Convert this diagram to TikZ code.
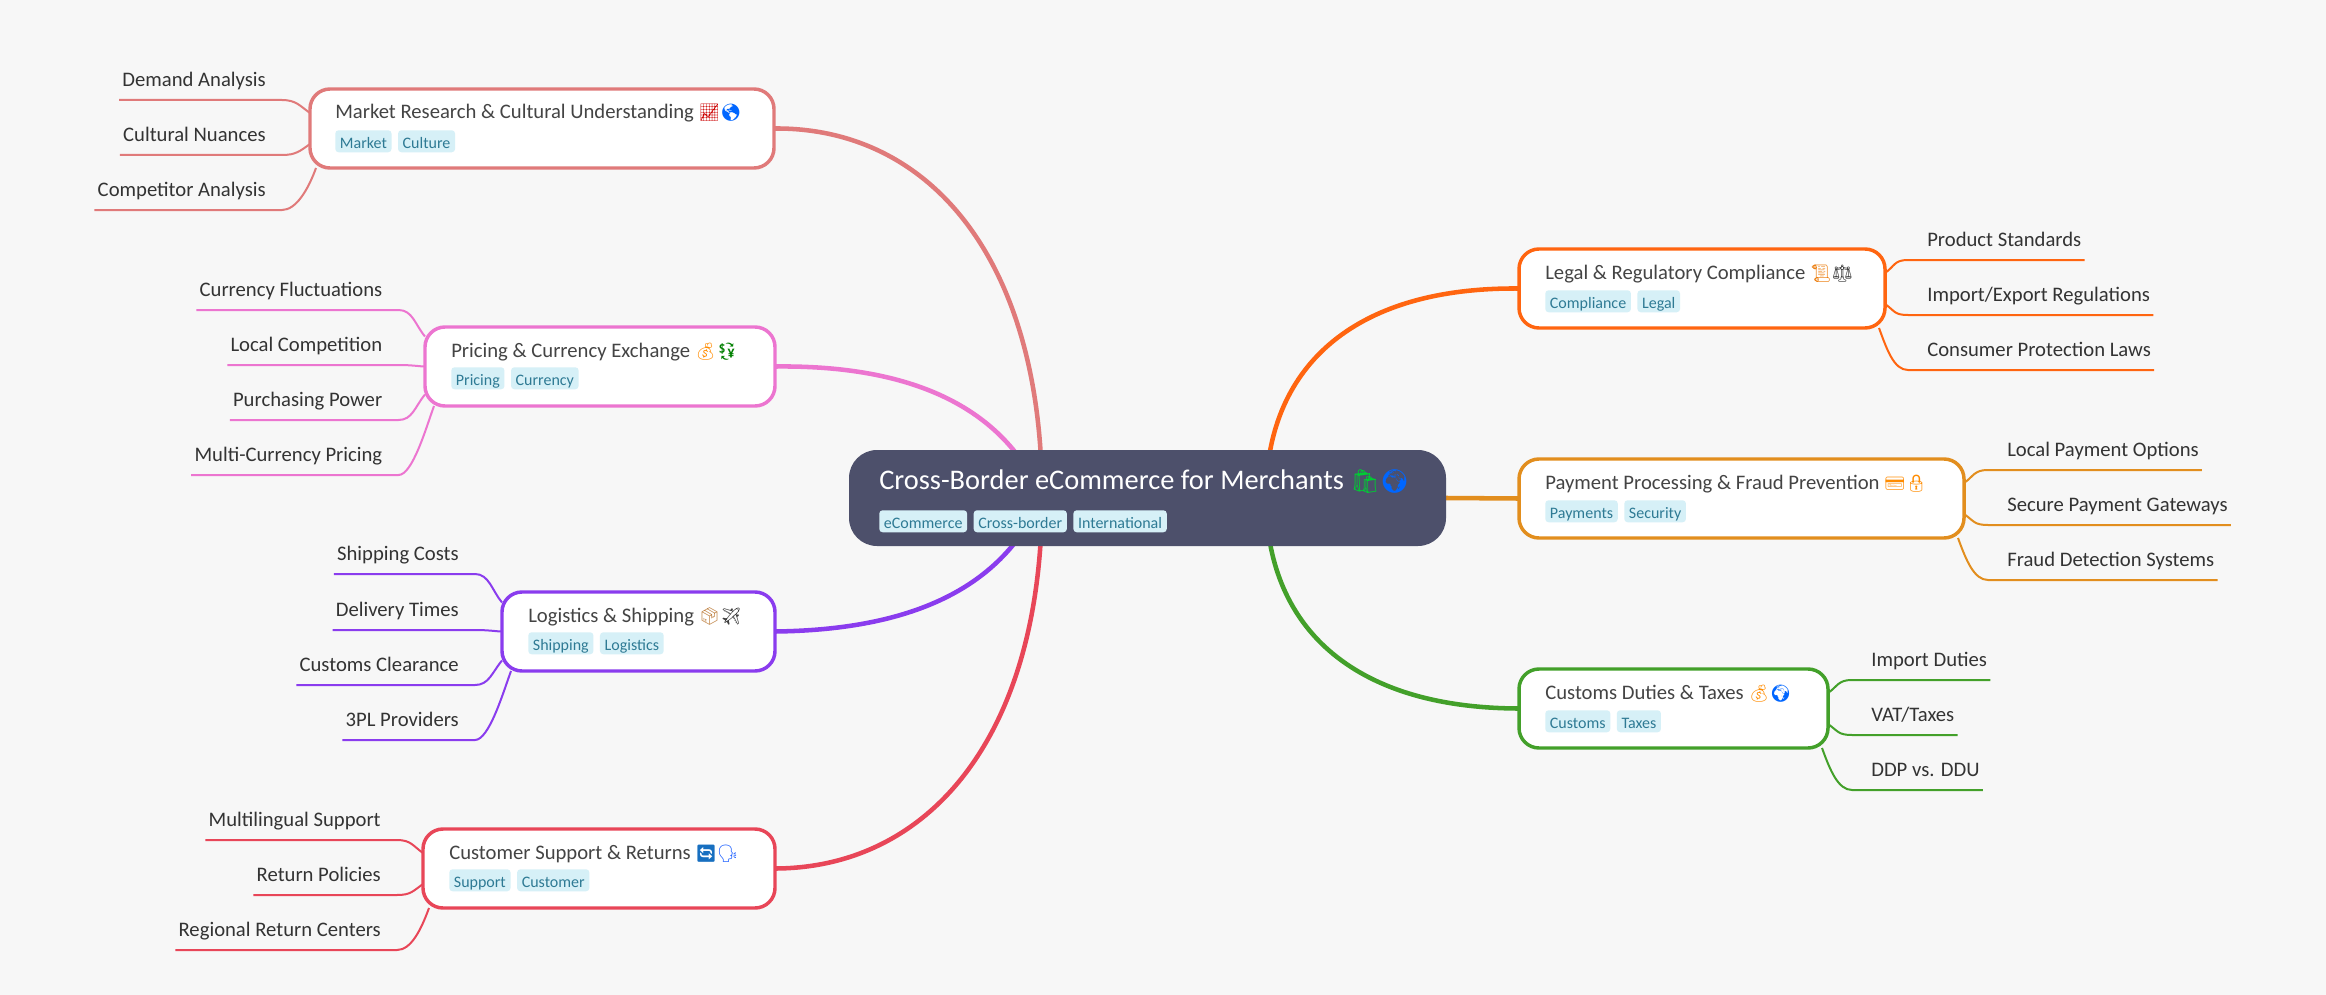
\documentclass[tikz,border=0pt]{standalone}
\usepackage{fontspec}
\setmainfont{Carlito}
\newfontfamily\emojifont[Scale=0.82]{Noto Emoji}
\usetikzlibrary{positioning,calc,backgrounds}

\definecolor{pagebg}{HTML}{F7F7F7}
\definecolor{rootbg}{HTML}{4D506B}
\definecolor{tagbg}{HTML}{D6F0F7}
\definecolor{tagtxt}{HTML}{2E7A94}
\definecolor{titletxt}{HTML}{444444}
\definecolor{leaftxt}{HTML}{333333}
\definecolor{mktcol}{HTML}{E07A7A}
\definecolor{pricol}{HTML}{EC75D0}
\definecolor{logcol}{HTML}{8A3CEE}
\definecolor{supcol}{HTML}{E84658}
\definecolor{legcol}{HTML}{FF6510}
\definecolor{paycol}{HTML}{E28E1E}
\definecolor{cuscol}{HTML}{43A02A}

\newcommand{\emo}[2]{{\color{#1}\emojifont #2}}
\newcommand{\leafl}[4]{\draw[leafline,#1] (#2.south west) -- (#2.south east) -- ++(13,0) .. controls +(14,0) and +#4 .. #3;}
\newcommand{\leafr}[4]{\draw[leafline,#1] (#2.south east) -- (#2.south west) -- ++(-16,0) .. controls +(-14,0) and +#4 .. #3;}

\begin{document}
\begin{tikzpicture}[
x=0.75pt, y=-0.75pt,
mainbox/.style={draw=#1, line width=2.6pt, fill=white, rounded corners=15pt, anchor=north west, inner sep=0pt, outer sep=0pt, minimum height=59.25pt},
rootbox/.style={fill=rootbg, rounded corners=21pt, anchor=north west, inner sep=0pt, outer sep=0pt, minimum width=447.75pt, minimum height=72pt},
title/.style={anchor=base west, inner sep=0pt, text=titletxt, font=\fontsize{15.5}{18}\selectfont},
roottitle/.style={anchor=base west, inner sep=0pt, text=white, font=\fontsize{21.3}{24}\selectfont},
tagbox/.style={fill=tagbg, text=tagtxt, rounded corners=2.5pt, inner ysep=0pt, inner xsep=3.5pt, text height=13.5pt, text depth=3pt, font=\fontsize{12}{14}\selectfont},
leafleft/.style={anchor=south east, inner ysep=0pt, inner xsep=2.25pt, text height=12pt, text depth=10pt, text=leaftxt, font=\fontsize{15.5}{18}\selectfont},
leafright/.style={leafleft, anchor=south west},
leafline/.style={line width=1.5pt, line join=round},
mainline/.style={line width=3.4pt}
]
\useasboundingbox (0,0) rectangle (2326,995);

\node[rootbox] (root) at (849,450) {};
\node[roottitle] (rootT) at (879,489) {Cross-Border eCommerce for Merchants \emo{green!60!teal}{🛍}\emo{blue!60!cyan}{🌍}};
\node[tagbox,anchor=north west] (rootA) at (879,510) {eCommerce};
\node[tagbox,right=4.5pt of rootA] (rootB) {Cross-border};
\node[tagbox,right=4.5pt of rootB] (rootC) {International};
\coordinate (hubl) at (1042,497);
\coordinate (hubr) at (1266,497);

% left side
\node[mainbox=mktcol,minimum width=348pt] (market) at (310,89) {};
\node[title] (marketT) at (335,119) {Market Research \& Cultural Understanding \emo{red!80!black}{📈}\emo{blue!60!cyan}{🌎}};
\node[tagbox,anchor=north west] (marketA) at (335,130) {Market};
\node[tagbox,right=4.5pt of marketA] (marketB) {Culture};
\node[leafleft] (m1) at (269,100) {Demand Analysis};
\node[leafleft] (m2) at (269,155) {Cultural Nuances};
\node[leafleft] (m3) at (269,210) {Competitor Analysis};

\node[mainbox=pricol,minimum width=262.5pt] (pricing) at (425,327) {};
\node[title] (pricingT) at (451,357) {Pricing \& Currency Exchange \emo{orange!90!yellow}{💰}\emo{green!50!black}{💱}};
\node[tagbox,anchor=north west] (pricingA) at (451,367) {Pricing};
\node[tagbox,right=4.5pt of pricingA] (pricingB) {Currency};
\node[leafleft] (p1) at (385.5,310) {Currency Fluctuations};
\node[leafleft] (p2) at (385.5,365) {Local Competition};
\node[leafleft] (p3) at (385.5,420) {Purchasing Power};
\node[leafleft] (p4) at (385.5,475) {Multi-Currency Pricing};

\node[mainbox=logcol,minimum width=204.75pt] (logistics) at (502,592) {};
\node[title] (logisticsT) at (528,622) {Logistics \& Shipping \emo{brown}{📦}\emo{darkgray}{✈}};
\node[tagbox,anchor=north west] (logisticsA) at (528,632) {Shipping};
\node[tagbox,right=4.5pt of logisticsA] (logisticsB) {Logistics};
\node[leafleft] (l1) at (462,574) {Shipping Costs};
\node[leafleft] (l2) at (462,630) {Delivery Times};
\node[leafleft] (l3) at (462,685) {Customs Clearance};
\node[leafleft] (l4) at (462,740) {3PL Providers};

\node[mainbox=supcol,minimum width=264pt] (support) at (423,829) {};
\node[title] (supportT) at (449,859) {Customer Support \& Returns \emo{cyan!50!blue}{🔄}\emo{blue!70!cyan}{🗣}};
\node[tagbox,anchor=north west] (supportA) at (449,869) {Support};
\node[tagbox,right=4.5pt of supportA] (supportB) {Customer};
\node[leafleft] (s1) at (384,840) {Multilingual Support};
\node[leafleft] (s2) at (384,895) {Return Policies};
\node[leafleft] (s3) at (384,950) {Regional Return Centers};

% right side
\node[mainbox=legcol,minimum width=274.5pt] (legal) at (1519,249) {};
\node[title] (legalT) at (1545,279) {Legal \& Regulatory Compliance \emo{orange!70!brown}{📜}\emo{darkgray}{⚖}};
\node[tagbox,anchor=north west] (legalA) at (1545,290) {Compliance};
\node[tagbox,right=4.5pt of legalA] (legalB) {Legal};
\node[leafright] (g1) at (1924,260) {Product Standards};
\node[leafright] (g2) at (1924,315) {Import/Export Regulations};
\node[leafright] (g3) at (1924,370) {Consumer Protection Laws};

\node[mainbox=paycol,minimum width=333.75pt] (payment) at (1519,459) {};
\node[title] (paymentT) at (1545,489) {Payment Processing \& Fraud Prevention \emo{orange!90!yellow}{💳}\emo{orange!90!yellow}{🔒}};
\node[tagbox,anchor=north west] (paymentA) at (1545,500) {Payments};
\node[tagbox,right=4.5pt of paymentA] (paymentB) {Security};
\node[leafright] (y1) at (2004,470) {Local Payment Options};
\node[leafright] (y2) at (2004,525) {Secure Payment Gateways};
\node[leafright] (y3) at (2004,580) {Fraud Detection Systems};

\node[mainbox=cuscol,minimum width=231.75pt] (customs) at (1519,669) {};
\node[title] (customsT) at (1545,699) {Customs Duties \& Taxes \emo{orange!90!yellow}{💰}\emo{blue!60!cyan}{🌍}};
\node[tagbox,anchor=north west] (customsA) at (1545,710) {Customs};
\node[tagbox,right=4.5pt of customsA] (customsB) {Taxes};
\node[leafright] (c1) at (1868,680) {Import Duties};
\node[leafright] (c2) at (1868,735) {VAT/Taxes};
\node[leafright] (c3) at (1868,790) {DDP vs. DDU};

\begin{scope}[on background layer]
\fill[pagebg] (0,0) rectangle (2326,995);
\draw[mainline,mktcol] (market.east) .. controls (930,127) and (1042,260) .. (hubl);
\draw[mainline,pricol] (pricing.east) .. controls (900,365) and (1000,400) .. (hubl);
\draw[mainline,logcol] (logistics.east) .. controls (900,630) and (1000,595) .. (hubl);
\draw[mainline,supcol] (support.east) .. controls (930,868) and (1042,735) .. (hubl);
\draw[mainline,legcol] (legal.west) .. controls (1350,287) and (1266,370) .. (hubr);
\draw[mainline,paycol] (root.east) -- (payment.west);
\draw[mainline,cuscol] (customs.west) .. controls (1350,708) and (1266,625) .. (hubr);

\leafl{mktcol}{m1}{($(market.west)+(0,-15.5)$)}{(-10,-7)}
\leafl{mktcol}{m2}{($(market.west)+(0,15.5)$)}{(-10,7)}
\leafl{mktcol}{m3}{($(market.south west)+(6,0)$)}{(-8,22)}
\leafl{pricol}{p1}{($(pricing.west)+(0,-30)$)}{(-10,-12)}
\leafl{pricol}{p2}{(pricing.west)}{(-5,0)}
\leafl{pricol}{p3}{($(pricing.west)+(0,28)$)}{(-10,12)}
\leafl{pricol}{p4}{($(pricing.south west)+(9,0)$)}{(-8,22)}
\leafl{logcol}{l1}{($(logistics.west)+(0,-29)$)}{(-10,-12)}
\leafl{logcol}{l2}{(logistics.west)}{(-5,0)}
\leafl{logcol}{l3}{($(logistics.west)+(0,29)$)}{(-10,12)}
\leafl{logcol}{l4}{($(logistics.south west)+(9,0)$)}{(-8,22)}
\leafl{supcol}{s1}{($(support.west)+(0,-15.5)$)}{(-10,-7)}
\leafl{supcol}{s2}{($(support.west)+(0,15.5)$)}{(-10,7)}
\leafl{supcol}{s3}{($(support.south west)+(6,0)$)}{(-8,22)}
\leafr{legcol}{g1}{($(legal.east)+(0,-15.5)$)}{(10,-7)}
\leafr{legcol}{g2}{($(legal.east)+(0,15.5)$)}{(10,7)}
\leafr{legcol}{g3}{($(legal.south east)+(-6,0)$)}{(8,22)}
\leafr{paycol}{y1}{($(payment.east)+(0,-15.5)$)}{(10,-7)}
\leafr{paycol}{y2}{($(payment.east)+(0,15.5)$)}{(10,7)}
\leafr{paycol}{y3}{($(payment.south east)+(-6,0)$)}{(8,22)}
\leafr{cuscol}{c1}{($(customs.east)+(0,-15.5)$)}{(10,-7)}
\leafr{cuscol}{c2}{($(customs.east)+(0,15.5)$)}{(10,7)}
\leafr{cuscol}{c3}{($(customs.south east)+(-6,0)$)}{(8,22)}
\end{scope}
\end{tikzpicture}
\end{document}
